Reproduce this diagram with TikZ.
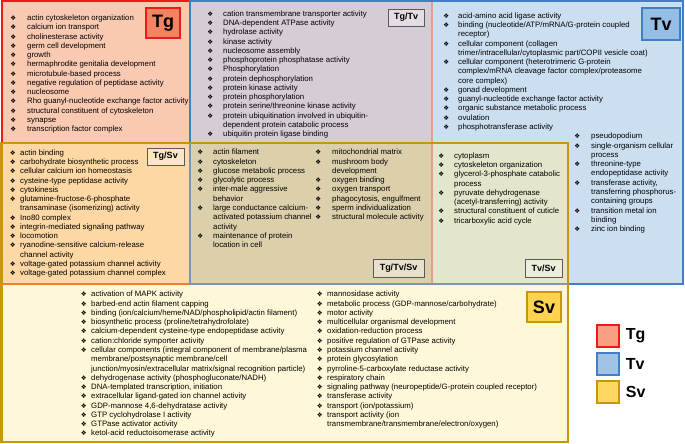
\documentclass[tikz,border=0pt]{standalone}
\usepackage{fontspec}
\setmainfont{Liberation Sans}
\newfontfamily\symfont{DejaVu Sans}
\usetikzlibrary{positioning}

\definecolor{cTg}{RGB}{250,201,178}
\definecolor{cTgTv}{RGB}{214,204,214}
\definecolor{cTv}{RGB}{204,223,241}
\definecolor{cTgSv}{RGB}{253,216,164}
\definecolor{cAll}{RGB}{220,208,172}
\definecolor{cTvSv}{RGB}{227,230,202}
\definecolor{cSv}{RGB}{255,248,216}
\definecolor{lTg}{RGB}{240,24,24}
\definecolor{lTv}{RGB}{66,126,195}
\definecolor{lSv}{RGB}{200,150,10}
\definecolor{lTgTv}{RGB}{226,160,140}
\definecolor{lTgSv}{RGB}{240,126,42}
\definecolor{lTvSv}{RGB}{125,149,174}

\newlength\bulgap
\newcommand\bul{{\symfont\fontsize{6.5}{6.5}\selectfont ❖}}
\newcommand\gi{\leavevmode\strut\llap{\bul\hspace{\bulgap}}}

\begin{document}
\begin{tikzpicture}[
    x=1pt, y=-1pt,
    glist/.style={anchor=north west, yshift=6.49pt, align=left, inner sep=0pt,
        font=\fontsize{7.8}{9.27}\selectfont,
        execute at begin node={\setlength\bulgap{#1}}},
    glist/.default=4.5pt,
    set label/.style={draw=#1, line width=1.8pt, minimum width=34pt, minimum height=30pt,
        inner sep=0pt, font=\fontsize{18}{18}\selectfont\bfseries},
    part label/.style={draw=black!65, line width=0.8pt, fill=white, fill opacity=0.35,
        text opacity=1, inner sep=0pt, minimum height=17pt, font=\fontsize{9}{9}\selectfont\bfseries},
    legend box/.style={draw=#1, line width=1.5pt, minimum size=22pt, inner sep=0pt},
    legend text/.style={right=6pt, inner sep=0pt, font=\fontsize{16}{16}\selectfont\bfseries},
]
\useasboundingbox (0,0) rectangle (685,444);

% Region fills
\fill[cTg] (1.5,1.5) rectangle (189.5,143);
\fill[cTgTv] (189.5,1.5) rectangle (432,143);
\fill[cTv] (432,1.5) rectangle (683,284);
\fill[cTgSv] (1.5,143) rectangle (189.5,284);
\fill[cAll] (189.5,143) rectangle (432,284);
\fill[cTvSv] (432,143) rectangle (568,284);
\fill[cSv] (1.5,284) rectangle (568,442);

% Set borders
\draw[lTg, line width=2pt] (189.5,1.5) -- (1.5,1.5) -- (1.5,143);
\draw[lTgTv, line width=2pt] (432,1.5) -- (432,284);
\draw[lTgSv, line width=2pt] (1.5,284) -- (189.5,284);
\draw[lTv, line width=2pt] (189.5,143) -- (189.5,1.5) -- (683,1.5) -- (683,284) -- (568,284);
\draw[lTvSv, line width=2pt] (189.5,143) -- (189.5,284) -- (568,284);
\draw[lSv, line width=2.5pt] (1.5,143) rectangle (568,442);

% Set labels
\node[set label=lTg, fill={rgb,255:red,242;green,132;blue,98}] (tg) at (163,23) {Tg};
\node[set label=lTv, fill={rgb,255:red,150;green,190;blue,228}, minimum width=38pt, minimum height=32pt] (tv) at (661,24) {Tv};
\node[set label=lSv, fill={rgb,255:red,255;green,210;blue,80}] (sv) at (544,307) {Sv};

\node[part label, minimum width=36pt] (tgtv) at (406,17.5) {Tg/Tv};
\node[part label, minimum width=37pt] (tgsv) at (165.5,156.5) {Tg/Sv};
\node[part label, minimum width=51pt, minimum height=18pt] (tgtvsv) at (398.5,268) {Tg/Tv/Sv};
\node[part label, minimum width=37pt, minimum height=18pt] (tvsv) at (543.5,268) {Tv/Sv};

% Term lists
\node[glist=11pt] (tglist) at (27,20.3) {%
\gi actin cytoskeleton organization\\
\gi calcium ion transport\\
\gi cholinesterase activity\\
\gi germ cell development\\
\gi growth\\
\gi hermaphrodite genitalia development\\
\gi microtubule-based process\\
\gi negative regulation of peptidase activity\\
\gi nucleosome\\
\gi Rho guanyl-nucleotide exchange factor activity\\
\gi structural constituent of cytoskeleton\\
\gi synapse\\
\gi transcription factor complex};

\node[glist=10pt] (tgtvlist) at (223,16) {%
\gi cation transmembrane transporter activity\\
\gi DNA-dependent ATPase activity\\
\gi hydrolase activity\\
\gi kinase activity\\
\gi nucleosome assembly\\
\gi phosphoprotein phosphatase activity\\
\gi Phosphorylation\\
\gi protein dephosphorylation\\
\gi protein kinase activity\\
\gi protein phosphorylation\\
\gi protein serine/threonine kinase activity\\
\gi protein ubiquitination involved in ubiquitin-\\
dependent protein catabolic process\\
\gi ubiquitin protein ligase binding};

\node[glist=9pt] (tvlist) at (458,18) {%
\gi acid-amino acid ligase activity\\
\gi binding (nucleotide/ATP/mRNA/G-protein coupled\\
receptor)\\
\gi cellular component (collagen\\
trimer/intracellular/cytoplasmic part/COPII vesicle coat)\\
\gi cellular component (heterotrimeric G-protein\\
complex/mRNA cleavage factor complex/proteasome\\
core complex)\\
\gi gonad development\\
\gi guanyl-nucleotide exchange factor activity\\
\gi organic substance metabolic process\\
\gi ovulation\\
\gi phosphotransferase activity};

\node[glist=11pt] (tvlist2) at (591,138.7) {%
\gi pseudopodium\\
\gi single-organism cellular\\
process\\
\gi threonine-type\\
endopeptidase activity\\
\gi transferase activity,\\
transferring phosphorus-\\
containing groups\\
\gi transition metal ion\\
binding\\
\gi zinc ion binding};

\node[glist] (tgsvlist) at (20,155) {%
\gi actin binding\\
\gi carbohydrate biosynthetic process\\
\gi cellular calcium ion homeostasis\\
\gi cysteine-type peptidase activity\\
\gi cytokinesis\\
\gi glutamine-fructose-6-phosphate\\
transaminase (isomerizing) activity\\
\gi Ino80 complex\\
\gi integrin-mediated signaling pathway\\
\gi locomotion\\
\gi ryanodine-sensitive calcium-release\\
channel activity\\
\gi voltage-gated potassium channel activity\\
\gi voltage-gated potassium channel complex};

\node[glist=10pt] (alllist) at (213,154.7) {%
\gi actin filament\\
\gi cytoskeleton\\
\gi glucose metabolic process\\
\gi glycolytic process\\
\gi inter-male aggressive\\
behavior\\
\gi large conductance calcium-\\
activated potassium channel\\
activity\\
\gi maintenance of protein\\
location in cell};

\node[glist=11pt] (alllist2) at (332,154.7) {%
\gi mitochondrial matrix\\
\gi mushroom body\\
development\\
\gi oxygen binding\\
\gi oxygen transport\\
\gi phagocytosis, engulfment\\
\gi sperm individualization\\
\gi structural molecule activity};

\node[glist=10pt] (tvsvlist) at (454,158) {%
\gi cytoplasm\\
\gi cytoskeleton organization\\
\gi glycerol-3-phosphate catabolic\\
process\\
\gi pyruvate dehydrogenase\\
(acetyl-transferring) activity\\
\gi structural constituent of cuticle\\
\gi tricarboxylic acid cycle};

\node[glist] (svlist) at (91,296.7) {%
\gi activation of MAPK activity\\
\gi barbed-end actin filament capping\\
\gi binding (ion/calcium/heme/NAD/phospholipid/actin filament)\\
\gi biosynthetic process (proline/tetrahydrofolate)\\
\gi calcium-dependent cysteine-type endopeptidase activity\\
\gi cation:chloride symporter activity\\
\gi cellular components (integral component of membrane/plasma\\
membrane/postsynaptic membrane/cell\\
junction/myosin/extracellular matrix/signal recognition particle)\\
\gi dehydrogenase activity (phosphogluconate/NADH)\\
\gi DNA-templated transcription, initiation\\
\gi extracellular ligand-gated ion channel activity\\
\gi GDP-mannose 4,6-dehydratase activity\\
\gi GTP cyclohydrolase I activity\\
\gi GTPase activator activity\\
\gi ketol-acid reductoisomerase activity};

\node[glist] (svlist2) at (327,296.7) {%
\gi mannosidase activity\\
\gi metabolic process (GDP-mannose/carbohydrate)\\
\gi motor activity\\
\gi multicellular organismal development\\
\gi oxidation-reduction process\\
\gi positive regulation of GTPase activity\\
\gi potassium channel activity\\
\gi protein glycosylation\\
\gi pyrroline-5-carboxylate reductase activity\\
\gi respiratory chain\\
\gi signaling pathway (neuropeptide/G-protein coupled receptor)\\
\gi transferase activity\\
\gi transport (ion/potassium)\\
\gi transport activity (ion\\
transmembrane/transmembrane/electron/oxygen)};

% Legend
\node[legend box=lTg, fill={rgb,255:red,250;green,160;blue,130}] (keytg) at (608,336) {};
\node[legend box=lTv, fill={rgb,255:red,160;green,195;blue,230}] (keytv) at (608,364) {};
\node[legend box=lSv, fill={rgb,255:red,255;green,215;blue,100}] (keysv) at (608,392) {};
\node[legend text] at (keytg.east) {Tg};
\node[legend text] at (keytv.east) {Tv};
\node[legend text] at (keysv.east) {Sv};

\end{tikzpicture}
\end{document}
